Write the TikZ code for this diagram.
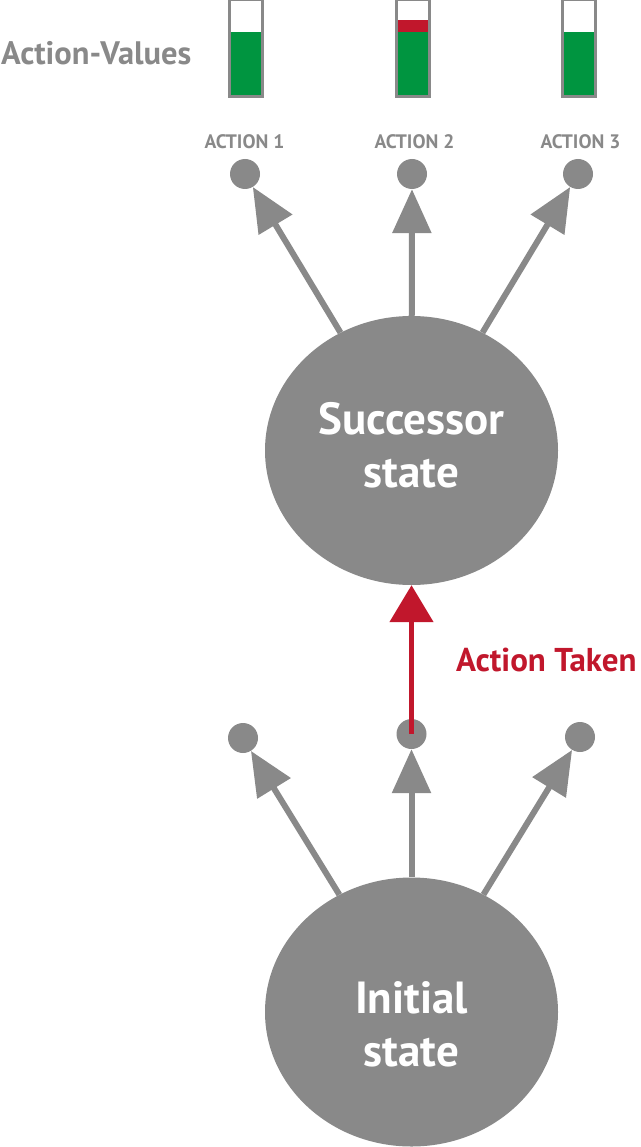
\documentclass[tikz,border=0pt]{standalone}
\usepackage{fontspec}
\setmainfont{PT Sans}
\usetikzlibrary{arrows.meta,shapes.geometric}
\definecolor{gr}{HTML}{898989}
\definecolor{grn}{HTML}{009540}
\definecolor{rd}{HTML}{C1172C}
\tikzset{
  dot/.style={circle,fill=gr,minimum size=30pt,inner sep=0pt},
  bigc/.style={ellipse,fill=gr,minimum width=293pt,minimum height=269pt,inner sep=0pt},
  ctext/.style={text=white,font=\bfseries\fontsize{45pt}{53pt}\selectfont,anchor=base,inner sep=0pt},
  arr/.style={draw=gr,line width=6pt,-{Triangle[length=44pt,width=38pt]}},
  redarr/.style={draw=rd,line width=5pt,-{Triangle[length=37pt,width=43pt]}},
  alab/.style={text=gr,font=\bfseries\fontsize{19.5pt}{22pt}\selectfont,inner sep=0pt,anchor=base},
  barframe/.style={draw=gr,line width=3pt,minimum width=33pt,minimum height=97pt,inner sep=0pt}
}
\begin{document}
\begin{tikzpicture}[x=1pt,y=-1pt]
\useasboundingbox (0,0) rectangle (640,1147);
% title
\node[text=gr,font=\bfseries\fontsize{32.5pt}{34pt}\selectfont,anchor=base west,inner sep=0pt] (av) at (1,65) {Action-Values};
% bars
\foreach \x/\n in {245.5/1,412.5/2,579/3}{
  \fill[grn] (\x-15,32) rectangle (\x+15,96);
  \node[barframe] (bar\n) at (\x,48) {};
}
\fill[rd] (412.5-15,20) rectangle (412.5+15,32);
% labels
\node[alab] (l1) at (244.5,149) {ACTION 1};
\node[alab] (l2) at (414.5,149) {ACTION 2};
\node[alab] (l3) at (580.5,149) {ACTION 3};
% top dots
\node[dot] (t1) at (245,174) {};
\node[dot] (t2) at (412,174) {};
\node[dot] (t3) at (578,174) {};
% successor
\node[bigc] (succ) at (411.5,450.5) {};
\node[ctext] (s1) at (411.5,434) {Successor};
\node[ctext] (s2) at (411.5,487) {state};
\draw[arr] (succ) -- (t1);
\draw[arr] (succ) -- (t2);
\draw[arr] (succ) -- (t3);
% bottom dots
\node[dot] (b1) at (243,738) {};
\node[dot] (b2) at (411.5,734) {};
\node[dot] (b3) at (580,737) {};
% initial
\node[bigc] (init) at (411.5,1012) {};
\node[ctext] (i1) at (411.5,1013) {Initial};
\node[ctext] (i2) at (411.5,1066) {state};
\draw[arr] (init) -- (b1);
\draw[arr] (init) -- (b2);
\draw[arr] (init) -- (b3);
% red
\draw[redarr] (b2.center) -- (succ);
\node[text=rd,font=\bfseries\fontsize{33pt}{35pt}\selectfont,anchor=base west,inner sep=0pt] (at) at (456,671) {Action Taken};
\end{tikzpicture}
\end{document}
